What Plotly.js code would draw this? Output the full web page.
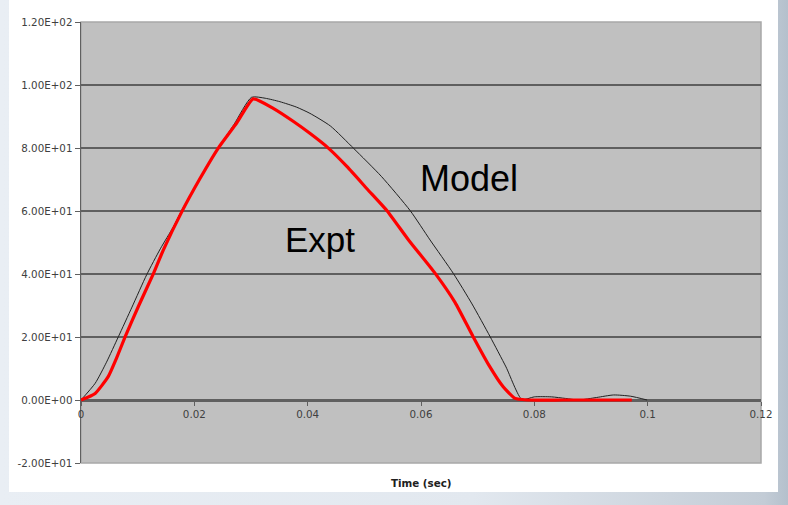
<!DOCTYPE html>
<html>
<head>
<meta charset="utf-8">
<script src="https://cdn.plot.ly/plotly-3.0.1.min.js"></script>
<style>
  html, body { margin: 0; padding: 0; width: 788px; height: 505px; overflow: hidden;
    background: linear-gradient(to right, #e9eef4 0%, #e2e8ef 60%, #c3ccd6 97%, #b4c0cc 100%); }
  #chart { position: absolute; left: 9px; top: 0px; width: 769px; height: 492px; }
</style>
</head>
<body>
<div id="chart"></div>
<script>
// Model (thin black line)
const modelTime = [0, 0.0025, 0.0045, 0.0066, 0.009, 0.0116, 0.014, 0.0163, 0.0178, 0.021, 0.0242, 0.027, 0.0301,
  0.0325, 0.0351, 0.038, 0.0404, 0.044, 0.0481, 0.053, 0.0581, 0.0616, 0.0657, 0.069, 0.0722, 0.075, 0.0778,
  0.080, 0.083, 0.0855, 0.0878, 0.091, 0.094, 0.097, 0.0999];
const modelForce = [0, 5.3, 12, 20.1, 29.5, 39.8, 48, 55, 60.3, 70.5, 79.9, 87.5, 96.1,
  95.8, 94.7, 93, 91, 87, 79.9, 71, 60.1, 50.8, 40.2, 30.5, 20.1, 10.5, 0.2,
  1.0, 1.0, 0.5, 0, 0.8, 1.6, 1.2, 0];

// Experiment (thick red line)
const exptTime = [0, 0.0025, 0.0048, 0.0062, 0.0078, 0.0102, 0.0128, 0.0145, 0.0178, 0.021, 0.0242, 0.0275, 0.0304,
  0.034, 0.0375, 0.0405, 0.0437, 0.047, 0.0505, 0.054, 0.0578, 0.0625, 0.066, 0.0692, 0.072, 0.0745, 0.0766,
  0.0787, 0.085, 0.090, 0.0972];
const exptForce = [0, 2.1, 7.4, 13, 20.1, 30, 40.2, 47.5, 59.8, 70.3, 79.9, 88, 95.6,
  92.5, 88.4, 84.5, 79.9, 74, 67, 60.1, 50.8, 40.2, 31, 20.1, 11, 4.2, 0.5,
  0, 0, 0, 0];

const xTickVals = [0, 0.02, 0.04, 0.06, 0.08, 0.1, 0.12];
const xTickText = ['0', '0.02', '0.04', '0.06', '0.08', '0.1', '0.12'];
const yTickVals = [-20, 0, 20, 40, 60, 80, 100, 120];
const yTickText = ['-2.00E+01', '0.00E+00', '2.00E+01', '4.00E+01', '6.00E+01', '8.00E+01', '1.00E+02', '1.20E+02'];

const labelModel = 'Model';
const labelExpt = 'Expt';
const xTitle = 'Time (sec)';

const tickFont = { family: 'DejaVu Sans, sans-serif', size: 10.3, color: '#404040' };

const traces = [
  { x: modelTime, y: modelForce, type: 'scatter', mode: 'lines', name: labelModel,
    line: { color: '#202020', width: 1, shape: 'spline', smoothing: 0.6 }, hoverinfo: 'skip' },
  { x: exptTime, y: exptForce, type: 'scatter', mode: 'lines', name: labelExpt,
    line: { color: '#ff0000', width: 3.2, shape: 'spline', smoothing: 0.5 }, hoverinfo: 'skip' }
];

const layout = {
  width: 769, height: 492,
  margin: { l: 72, r: 17, t: 22, b: 29 },
  paper_bgcolor: '#ffffff',
  plot_bgcolor: '#c0c0c0',
  showlegend: false,
  xaxis: {
    range: [0, 0.12], tickvals: xTickVals, ticktext: xTickText,
    anchor: 'free', position: 20 / 140,
    showgrid: false, zeroline: false,
    showline: true, linecolor: '#606060', linewidth: 1.5,
    ticks: 'outside', ticklen: 4, tickcolor: '#606060', tickwidth: 1,
    tickfont: tickFont, layer: 'below traces'
  },
  yaxis: {
    range: [-20, 120], tickvals: yTickVals, ticktext: yTickText,
    showgrid: true, gridcolor: '#5f5f5f', gridwidth: 1.5,
    zeroline: false,
    showline: true, linecolor: '#606060', linewidth: 1.5,
    ticks: 'outside', ticklen: 5, tickcolor: '#606060', tickwidth: 1,
    tickfont: tickFont, layer: 'below traces'
  },
  shapes: [
    { type: 'rect', xref: 'paper', yref: 'paper', x0: 0, x1: 1, y0: 0, y1: 1,
      line: { color: '#a8a8a8', width: 1.5 }, layer: 'below' }
  ],
  annotations: [
    { x: 0.0595, y: 70.2, xref: 'x', yref: 'y', text: labelModel, showarrow: false,
      xanchor: 'left', yanchor: 'middle',
      font: { family: 'Liberation Sans, Arial, sans-serif', size: 36, color: '#000000' } },
    { x: 0.0357, y: 51.1, xref: 'x', yref: 'y', text: labelExpt, showarrow: false,
      xanchor: 'left', yanchor: 'middle',
      font: { family: 'Liberation Sans, Arial, sans-serif', size: 35, color: '#000000' } },
    { x: 0.5, y: -0.045, xref: 'paper', yref: 'paper', text: '<b>' + xTitle + '</b>', showarrow: false,
      xanchor: 'center', yanchor: 'middle',
      font: { family: 'DejaVu Sans, sans-serif', size: 10.3, color: '#202020' } }
  ]
};

Plotly.newPlot('chart', traces, layout, { displayModeBar: false, staticPlot: true });
</script>
</body>
</html>
